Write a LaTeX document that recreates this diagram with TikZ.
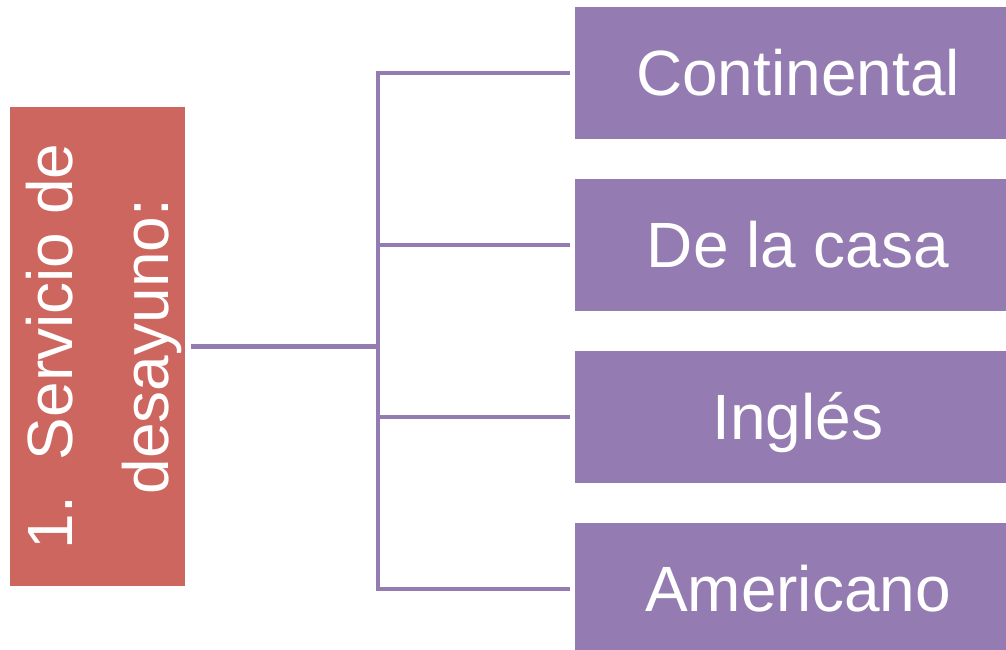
\documentclass[tikz,border=0pt]{standalone}
\usepackage{fontspec}
\setmainfont{Liberation Sans}
\usetikzlibrary{positioning}
\definecolor{rojo}{RGB}{205,102,95}
\definecolor{morado}{RGB}{148,123,177}
\tikzset{
caja/.style={fill=morado, text=white, minimum width=446pt, minimum height=132pt, inner sep=0pt, outer sep=0pt, font=\fontsize{64}{96}\selectfont, text height=46pt, text depth=0pt},
titulo/.style={fill=rojo, text=white, minimum width=175pt, minimum height=479pt, inner sep=0pt, outer sep=0pt, font=\fontsize{64}{96}\selectfont},
rama/.style={draw=morado, line width=4.5pt}
}

\begin{document}
\begin{tikzpicture}[x=1pt,y=1pt]
\useasboundingbox (0,0) rectangle (1006,650);
\node [titulo] (servicio) at (97.5,303.5) {\hspace*{12pt}\rotatebox{90}{\parbox{470pt}{\centering 1.\hspace{36pt}Servicio de\\desayuno:}}};
\node [caja] (continental) at (798,577) {Continental};
\node [caja, below=40pt of continental] (casa) {De la casa};
\node [caja, below=40pt of casa] (ingles) {Inglés};
\node [caja, below=40pt of ingles] (americano) {Americano};
\coordinate [right=193pt of servicio.east] (tronco);
\draw [rama] ([xshift=6pt]servicio.east) -- (tronco);
\foreach \n in {continental,casa,ingles,americano}
\draw [rama] (tronco) |- ([xshift=-5pt]\n.west);
\end{tikzpicture}
\end{document}
